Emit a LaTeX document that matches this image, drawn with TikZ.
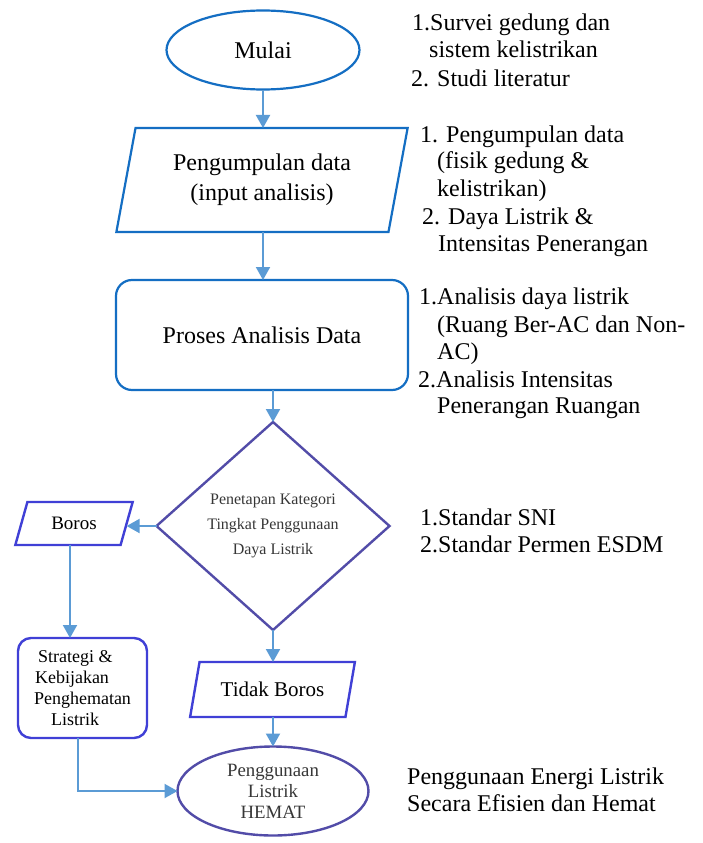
\documentclass[tikz,border=0pt]{standalone}
\usepackage{fontspec}
\setmainfont{Liberation Serif}
\usetikzlibrary{shapes.geometric,arrows.meta}
\definecolor{blueA}{RGB}{20,110,195}
\definecolor{arrowc}{RGB}{91,155,213}
\definecolor{blueB}{RGB}{64,64,214}
\definecolor{purp}{RGB}{82,76,168}
\definecolor{graytext}{RGB}{55,55,55}
\begin{document}
\begin{tikzpicture}[x=1pt,y=-1pt,
  boxA/.style={draw=blueA,line width=2.2pt,inner sep=0pt,outer sep=0pt,align=center},
  boxB/.style={draw=blueB,line width=2.4pt,inner sep=0pt,outer sep=0pt,align=center},
  boxP/.style={draw=purp,line width=2.4pt,inner sep=0pt,outer sep=0pt,align=center,text=graytext},
  para/.style={trapezium,trapezium stretches=true},
  arr/.style={draw=arrowc,line width=2pt,-{Triangle[length=13pt,width=14pt]}},
  side/.style={anchor=base west,inner sep=0pt,font=\fontsize{24}{27}\selectfont}
]
\fill[white] (0,0) rectangle (702,843);
\useasboundingbox (0,0) rectangle (702,843);

% main flow
\node[boxA,ellipse,minimum width=193pt,minimum height=79pt,font=\fontsize{24}{30}\selectfont] (M) at (263,50) {Mulai};
\node[boxA,para,trapezium left angle=75.4,trapezium right angle=104.6,minimum width=292pt,minimum height=104pt,font=\fontsize{24}{30}\selectfont] (P) at (262,180) {Pengumpulan data\\(input analisis)};
\node[boxA,rectangle,rounded corners=16pt,minimum width=292pt,minimum height=110pt,font=\fontsize{24}{30}\selectfont] (A) at (262,335) {Proses Analisis Data};
\node[boxP,diamond,minimum width=233pt,minimum height=208pt,font=\fontsize{16}{25}\selectfont] (D) at (273,526) {Penetapan Kategori\\Tingkat Penggunaan\\Daya Listrik};
\node[boxB,para,trapezium left angle=65,trapezium right angle=115,minimum width=118pt,minimum height=43pt,font=\fontsize{19}{22}\selectfont] (B) at (74,523.5) {Boros};
\node[boxB,rectangle,rounded corners=13pt,minimum width=129pt,minimum height=100pt,align=left,font=\fontsize{18}{21}\selectfont] (S) at (82.5,688) {\hspace{4pt}Strategi \&\\\hspace{1pt}Kebijakan\\Penghematan\\\hspace{17pt}Listrik};
\node[boxB,para,trapezium left angle=65.6,trapezium right angle=114.4,minimum width=165pt,minimum height=55pt,font=\fontsize{21}{25}\selectfont] (T) at (272.5,689.5) {Tidak Boros};
\node[boxP,ellipse,minimum width=191pt,minimum height=89pt,font=\fontsize{18.8}{21}\selectfont] (H) at (273,791) {Penggunaan\\Listrik\\HEMAT};

\coordinate (bx) at (70,0);
\coordinate (sx) at (78,0);

\draw[arr] (M.south) -- (P.north -| M.south);
\draw[arr] (P.south -| M.south) -- (A.north -| M.south);
\draw[arr] (A.south -| D.north) -- (D.north);
\draw[arr] (D.west) -- (D.west -| B.east);
\draw[arr] (B.south -| bx) -- (S.north -| bx);
\draw[arr] (D.south) -- (T.north -| D.south);
\draw[arr] (T.south -| H.north) -- (H.north);
\draw[arr] (S.south -| sx) |- (H.west);

% side notes
\node[side] (n1a) at (412,31) {1.Survei gedung dan};
\node[side] (n1b) at (429,58) {sistem kelistrikan};
\node[side] (n1c) at (411,86) {2. Studi literatur};

\node[side] (n2a) at (420,142) {1. Pengumpulan data};
\node[side] (n2b) at (437,168) {(fisik gedung \&};
\node[side] (n2c) at (437,196) {kelistrikan)};
\node[side] (n2d) at (422,224) {2. Daya Listrik \&};
\node[side] (n2e) at (438,251) {Intensitas Penerangan};

\node[side] (n3a) at (419,304) {1.Analisis daya listrik};
\node[side] (n3b) at (437,332) {(Ruang Ber-AC dan Non-};
\node[side] (n3c) at (437,359) {AC)};
\node[side] (n3d) at (418,387) {2.Analisis Intensitas};
\node[side] (n3e) at (437,413) {Penerangan Ruangan};

\node[side] (n4a) at (420,525) {1.Standar SNI};
\node[side] (n4b) at (420,552) {2.Standar Permen ESDM};

\node[side] (n5a) at (407,784) {Penggunaan Energi Listrik};
\node[side] (n5b) at (407,811) {Secara Efisien dan Hemat};
\end{tikzpicture}
\end{document}
